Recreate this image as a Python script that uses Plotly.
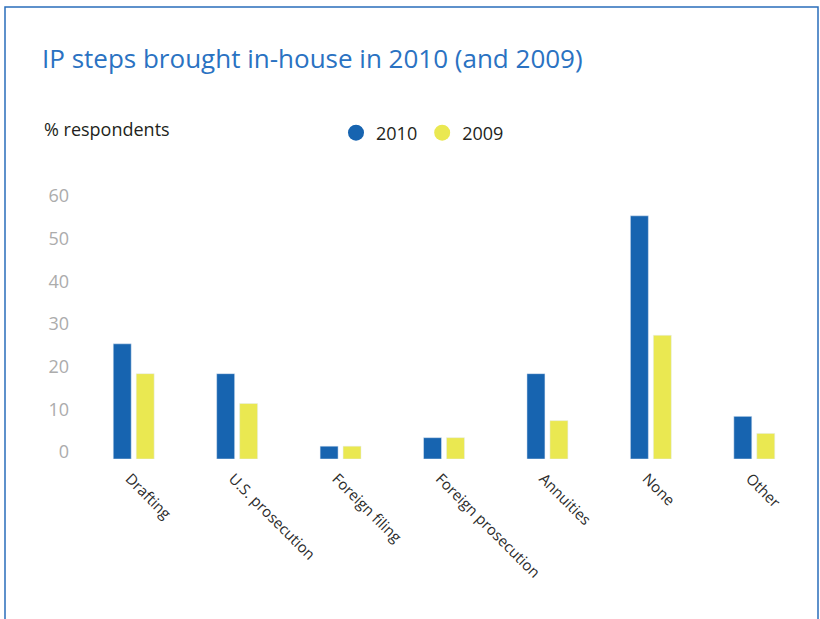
import plotly.graph_objects as go

# Survey results: share of respondents bringing each IP step in-house
categories = ["Drafting", "U.S. prosecution", "Foreign filing", "Foreign prosecution",
              "Annuities", "None", "Other"]
values_2010 = [27, 20, 3, 5, 20, 57, 10]
values_2009 = [20, 13, 3, 5, 9, 29, 6]
y_ticks = [0, 10, 20, 30, 40, 50, 60]

BLUE = "#1764b0"
YELLOW = "#eae851"
FONT = "Open Sans"

W, H = 820, 619
L, R, T, B = 82, 14, 203, 160

fig = go.Figure()
fig.add_trace(go.Bar(x=categories, y=values_2010, name="2010", marker_color=BLUE,
                     showlegend=False))
fig.add_trace(go.Bar(x=categories, y=values_2009, name="2009", marker_color=YELLOW,
                     showlegend=False))
# circle legend entries
for name, col in (("2010", BLUE), ("2009", YELLOW)):
    fig.add_trace(go.Scatter(x=[None], y=[None], mode="markers", name=name,
                             marker=dict(symbol="circle", size=18, color=col)))

pw = W - L - R
ph = H - T - B

def px_x(x):
    return (x - L) / pw

def px_y(y):
    return (H - B - y) / ph

fig.update_layout(
    width=W, height=H,
    margin=dict(l=L, r=R, t=T, b=B, autoexpand=False),
    paper_bgcolor="white", plot_bgcolor="white",
    barmode="group", bargap=0.556, bargroupgap=0.217,
    font=dict(family=FONT, color="#231f20"),
    title=dict(text="IP steps brought in-house in 2010 (and 2009)",
               font=dict(family=FONT, size=26, color="#2a72c2"),
               xref="container", yref="container",
               x=42 / W, xanchor="left", y=1 - 59 / H, yanchor="middle"),
    legend=dict(orientation="h", x=px_x(336), xanchor="left",
                y=px_y(133), yanchor="middle",
                font=dict(family=FONT, size=18, color="#231f20"),
                bgcolor="rgba(0,0,0,0)", itemclick=False),
    xaxis=dict(showgrid=False, zeroline=False, showline=False, ticks="",
               tickangle=45, tickfont=dict(family=FONT, size=15, color="#2b2b2b"),
               ticklabelstandoff=7, ticklabelshift=-4,
               range=[-0.5, len(categories) - 0.5]),
    yaxis=dict(showgrid=False, zeroline=False, showline=False, ticks="",
               range=[0, 60], tickvals=y_ticks,
               ticklabelposition="outside", ticklabelshift=-7, ticklabelstandoff=12,
               tickfont=dict(family=FONT, size=18, color="#acacac")),
)

fig.add_annotation(text="% respondents", xref="paper", yref="paper",
                   x=px_x(42), y=px_y(129), xanchor="left", yanchor="middle",
                   showarrow=False, font=dict(family=FONT, size=18, color="#231f20"))

# frame around the panel
fig.add_shape(type="rect", xref="paper", yref="paper",
              x0=px_x(5), x1=px_x(818), y0=px_y(650), y1=px_y(7),
              line=dict(color="#2a6ebb", width=1.5), fillcolor="rgba(0,0,0,0)",
              layer="below")

fig.write_html("out.html")
